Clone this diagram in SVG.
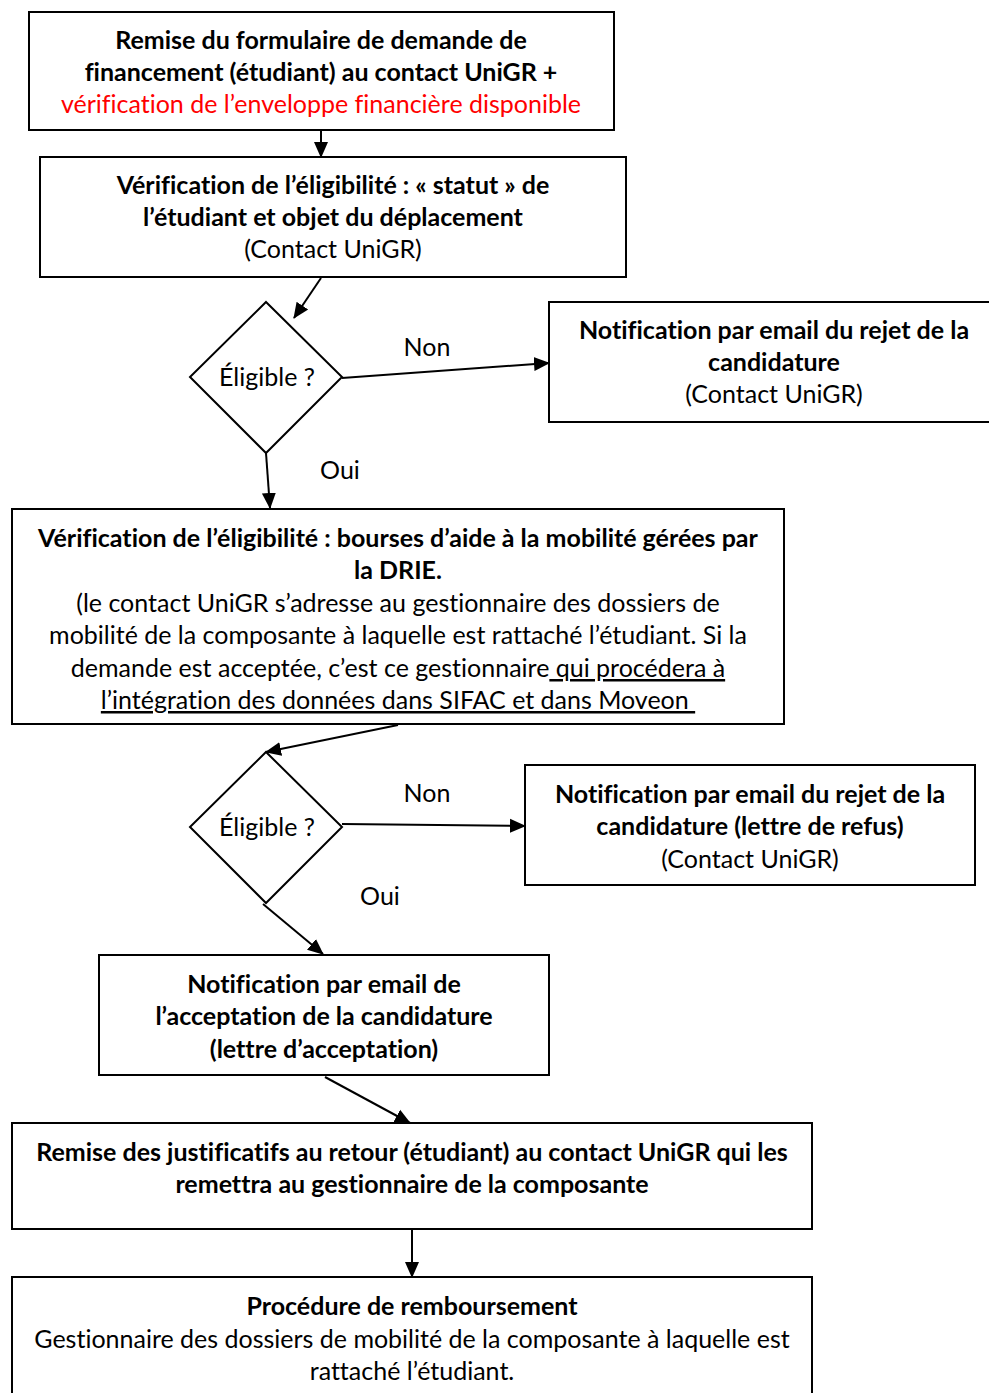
<svg xmlns="http://www.w3.org/2000/svg" width="989" height="1393" viewBox="0 0 989 1393">
<defs>
<marker id="ah" markerUnits="userSpaceOnUse" markerWidth="16" markerHeight="16" viewBox="0 0 16 16" refX="15" refY="8" orient="auto">
<path d="M0,1 L16,8 L0,15 Z" fill="#000"/>
</marker>
<style>
.box{fill:#fff;stroke:#000;stroke-width:2}
.t{font-family:Lato,"Open Sans","Liberation Sans",sans-serif;font-size:25px;fill:#000;text-anchor:middle;font-variant-ligatures:none}
.b{font-weight:bold}
.red{fill:#ff0000}
.c{fill:none;stroke:#000;stroke-width:2;marker-end:url(#ah)}
</style>
</defs>
<rect width="989" height="1393" fill="#fff"/>
<g id="connectors">
<line class="c" x1="321" y1="131" x2="321" y2="157"/>
<line class="c" x1="321" y1="278" x2="294" y2="318"/>
<line class="c" x1="342" y1="378" x2="549" y2="363"/>
<line class="c" x1="266" y1="453" x2="270" y2="508"/>
<line class="c" x1="398" y1="725" x2="266" y2="752"/>
<line class="c" x1="342" y1="824" x2="525" y2="826"/>
<line class="c" x1="263" y1="904" x2="323" y2="954"/>
<line class="c" x1="325" y1="1077" x2="410" y2="1123"/>
<line class="c" x1="412" y1="1230" x2="412" y2="1277"/>
</g>
<g id="n1">
<rect class="box" x="29" y="12" width="585" height="118"/>
<text class="t b" x="321" y="49">Remise du formulaire de demande de</text>
<text class="t b" x="321" y="81">financement (étudiant) au contact UniGR +</text>
<text class="t red" x="321" y="113">vérification de l’enveloppe financière disponible</text>
</g>
<g id="n2">
<rect class="box" x="40" y="157" width="586" height="120"/>
<text class="t b" x="333" y="194">Vérification de l’éligibilité : « statut » de</text>
<text class="t b" x="333" y="226">l’étudiant et objet du déplacement</text>
<text class="t" x="333" y="258">(Contact UniGR)</text>
</g>
<g id="d1">
<polygon class="box" points="266,302 342,377 266,453 190,377"/>
<text class="t" x="267" y="386">Éligible ?</text>
</g>
<text class="t" x="427" y="356">Non</text>
<text class="t" x="340" y="479">Oui</text>
<g id="n3">
<rect class="box" x="549" y="302" width="450" height="120"/>
<text class="t b" x="774" y="339">Notification par email du rejet de la</text>
<text class="t b" x="774" y="371">candidature</text>
<text class="t" x="774" y="403">(Contact UniGR)</text>
</g>
<g id="n4">
<rect class="box" x="12" y="509" width="772" height="215"/>
<text class="t b" x="398" y="547">Vérification de l’éligibilité : bourses d’aide à la mobilité gérées par</text>
<text class="t b" x="398" y="579">la DRIE.</text>
<text class="t" x="398" y="612">(le contact UniGR s’adresse au gestionnaire des dossiers de</text>
<text class="t" x="398" y="644">mobilité de la composante à laquelle est rattaché l’étudiant. Si la</text>
<text class="t" x="398" y="677">demande est acceptée, c’est ce gestionnaire<tspan text-decoration="underline">&#160;qui procédera à</tspan></text>
<text class="t" x="398" y="709" text-decoration="underline">l’intégration des données dans SIFAC et dans Moveon&#160;</text>
</g>
<g id="d2">
<polygon class="box" points="266,752 342,827 266,903 190,827"/>
<text class="t" x="267" y="836">Éligible ?</text>
</g>
<text class="t" x="427" y="802">Non</text>
<text class="t" x="380" y="905">Oui</text>
<g id="n5">
<rect class="box" x="525" y="765" width="450" height="120"/>
<text class="t b" x="750" y="803">Notification par email du rejet de la</text>
<text class="t b" x="750" y="835">candidature (lettre de refus)</text>
<text class="t" x="750" y="868">(Contact UniGR)</text>
</g>
<g id="n6">
<rect class="box" x="99" y="955" width="450" height="120"/>
<text class="t b" x="324" y="993">Notification par email de</text>
<text class="t b" x="324" y="1025">l’acceptation de la candidature</text>
<text class="t b" x="324" y="1058">(lettre d’acceptation)</text>
</g>
<g id="n7">
<rect class="box" x="12" y="1123" width="800" height="106"/>
<text class="t b" x="412" y="1161">Remise des justificatifs au retour (étudiant) au contact UniGR qui les</text>
<text class="t b" x="412" y="1193">remettra au gestionnaire de la composante</text>
</g>
<g id="n8">
<rect class="box" x="12" y="1277" width="800" height="130"/>
<text class="t b" x="412" y="1315">Procédure de remboursement</text>
<text class="t" x="412" y="1348">Gestionnaire des dossiers de mobilité de la composante à laquelle est</text>
<text class="t" x="412" y="1380">rattaché l’étudiant.</text>
</g>
</svg>
